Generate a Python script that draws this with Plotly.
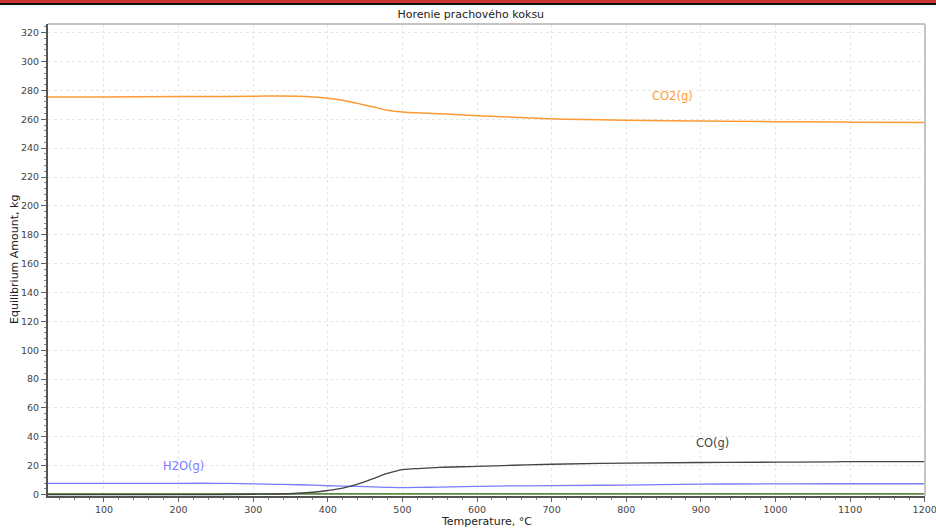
import plotly.graph_objects as go

# Equilibrium composition of the gas phase during combustion of coke dust
temperature_c = [25, 100, 200, 250, 300, 330, 360, 380, 400, 420, 440, 460, 480, 500,
                 525, 550, 600, 650, 700, 800, 900, 1000, 1080, 1100, 1200]

co2_kg = [275.5, 275.5, 275.8, 275.8, 275.9, 276.2, 276.0, 275.5, 274.6, 273.2, 271.0,
          268.6, 266.3, 265.0, 264.3, 263.8, 262.5, 261.4, 260.3, 259.4, 258.8, 258.3,
          258.1, 258.0, 257.7]

co_kg = [0.0, 0.0, 0.0, 0.0, 0.2, 0.4, 0.9, 1.6, 2.8, 4.5, 7.3, 10.9, 14.6, 17.2,
         18.2, 18.9, 19.5, 20.3, 21.0, 21.8, 22.2, 22.4, 22.7, 22.8, 22.8]

h2o_kg = [7.8, 7.8, 7.8, 7.8, 7.4, 7.1, 6.8, 6.5, 6.1, 5.9, 5.6, 5.3, 5.0, 4.8,
          5.0, 5.2, 5.7, 6.0, 6.2, 6.6, 7.2, 7.4, 7.5, 7.5, 7.5]

minor_kg = [0.5] * len(temperature_c)

series_labels = ["CO2(g)", "CO(g)", "H2O(g)"]
label_temps = [862, 916, 206]
label_values = [276, 36, 19.5]

colors = {"CO2(g)": "#ff9933", "CO(g)": "#444444", "H2O(g)": "#7b7bff"}

fig = go.Figure()

fig.add_trace(go.Scatter(x=temperature_c, y=minor_kg, mode="lines",
                         line=dict(color="#5e8c45", width=1.6), hoverinfo="skip"))
fig.add_trace(go.Scatter(x=temperature_c, y=h2o_kg, mode="lines", line_shape="spline",
                         line=dict(color=colors["H2O(g)"], width=1.3), name="H2O(g)"))
fig.add_trace(go.Scatter(x=temperature_c, y=co_kg, mode="lines", line_shape="spline",
                         line=dict(color=colors["CO(g)"], width=1.3), name="CO(g)"))
fig.add_trace(go.Scatter(x=temperature_c, y=co2_kg, mode="lines", line_shape="spline",
                         line=dict(color=colors["CO2(g)"], width=1.5), name="CO2(g)"))

for lab, tx, ty in zip(series_labels, label_temps, label_values):
    fig.add_annotation(x=tx, y=ty, text=lab, showarrow=False,
                       font=dict(family="DejaVu Sans", size=11.5, color=colors[lab]))

W, H = 936, 532
ml, mr, mt, mb = 48, 11, 24, 36
pw, ph = W - ml - mr, H - mt - mb

# red header band with a dark rule under it
fig.add_shape(type="rect", xref="paper", yref="paper",
              x0=-ml / pw, x1=1 + mr / pw, y0=1 + (mt - 3) / ph, y1=1 + mt / ph,
              fillcolor="#cc3333", line_width=0, layer="above")
fig.add_shape(type="rect", xref="paper", yref="paper",
              x0=-ml / pw, x1=1 + mr / pw, y0=1 + (mt - 5) / ph, y1=1 + (mt - 3) / ph,
              fillcolor="#111111", line_width=0, layer="above")
# light frame on the top and right sides of the plot area
fig.add_shape(type="line", xref="paper", yref="paper", x0=0, x1=1, y0=1, y1=1,
              line=dict(color="#c4c4c4", width=2))
fig.add_shape(type="line", xref="paper", yref="paper", x0=1, x1=1, y0=0, y1=1,
              line=dict(color="#c4c4c4", width=2))

# axis titles placed by hand so the plot area keeps its margins
fig.add_annotation(xref="paper", yref="paper", x=(486 - ml) / pw, y=-(521 - (H - mb)) / ph,
                   text="Temperature, °C", showarrow=False, yanchor="middle",
                   font=dict(family="DejaVu Sans", size=11, color="#222222"))
fig.add_annotation(xref="paper", yref="paper", x=-(ml - 14) / pw, y=(H - mb - 260) / ph,
                   text="Equilibrium Amount, kg", showarrow=False, textangle=-90,
                   xanchor="center", yanchor="middle",
                   font=dict(family="DejaVu Sans", size=11, color="#222222"))

fig.update_layout(
    width=W, height=H,
    margin=dict(l=ml, r=mr, t=mt, b=mb, autoexpand=False),
    paper_bgcolor="white", plot_bgcolor="white",
    showlegend=False,
    title=dict(text="Horenie prachového koksu", xref="container", x=0.503,
               xanchor="center", y=1 - 14 / H, yanchor="middle",
               font=dict(family="DejaVu Sans", size=11, color="#222222")),
    font=dict(family="DejaVu Sans"),
)

fig.update_xaxes(
    range=[25, 1200.4], tick0=100, dtick=100, automargin=False,
    ticklabeloverflow="allow",
    showline=True, linecolor="#555555", linewidth=2,
    ticks="outside", ticklen=4, tickcolor="#666666",
    tickfont=dict(size=9.5, color="#444444"),
    showgrid=True, gridcolor="#e6e6e6", griddash="dot", gridwidth=1,
    zeroline=False,
    minor=dict(dtick=20, ticklen=2, tickcolor="#888888", ticks="outside", showgrid=False),
)

fig.update_yaxes(
    range=[-1, 326], tick0=0, dtick=20, automargin=False,
    showline=True, linecolor="#555555", linewidth=2,
    ticks="outside", ticklen=5, tickcolor="#666666",
    tickfont=dict(size=9.5, color="#444444"),
    showgrid=True, gridcolor="#e6e6e6", griddash="dot", gridwidth=1,
    zeroline=False,
    minor=dict(dtick=4, ticklen=2, tickcolor="#888888", ticks="outside", showgrid=False),
)

fig.write_html("out.html")
